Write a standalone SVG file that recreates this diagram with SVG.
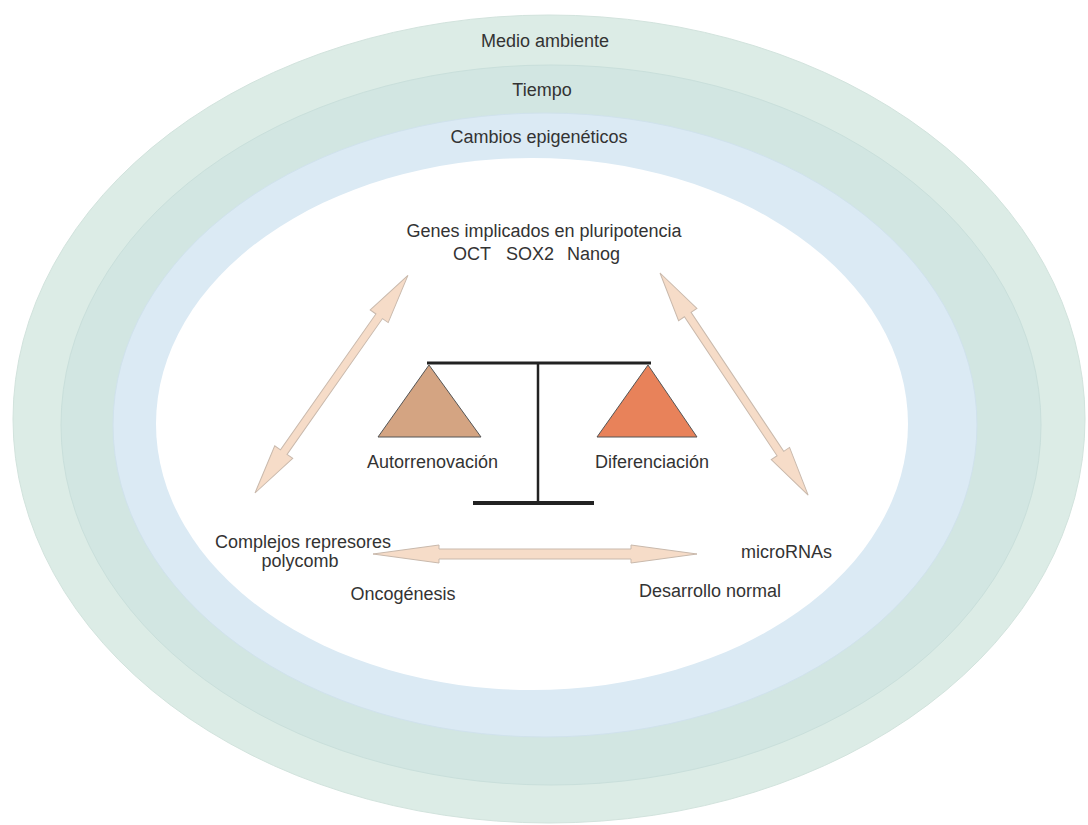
<svg xmlns="http://www.w3.org/2000/svg" width="1088" height="825" viewBox="0 0 1088 825">
<style>
text{font-family:"Liberation Sans",Arial,sans-serif;font-size:18px;fill:#333}
.mid{text-anchor:middle}
.arr{fill:#f6dcc8;stroke:#c9b9ac;stroke-width:1}
.bal{stroke:#222;fill:none}
</style>
<rect width="1088" height="825" fill="#ffffff"/>
<g id="ring-medio">
<ellipse cx="549" cy="419" rx="536" ry="404" fill="#dcece6" stroke="#d2e3dd" stroke-width="1"/>
<text class="mid" x="545" y="47">Medio ambiente</text>
</g>
<g id="ring-tiempo">
<ellipse cx="551" cy="425" rx="490" ry="360" fill="#d2e6e2" stroke="#c9dfdb" stroke-width="1"/>
<text class="mid" x="542" y="96">Tiempo</text>
</g>
<g id="ring-epigeneticos">
<ellipse cx="545" cy="425" rx="432" ry="312" fill="#dbeaf4" stroke="#d0e2ec" stroke-width="1"/>
<text class="mid" x="539" y="143">Cambios epigenéticos</text>
</g>
<ellipse cx="532" cy="424" rx="376" ry="266" fill="#ffffff"/>
<g id="genes">
<text class="mid" x="544" y="237">Genes implicados en pluripotencia</text>
<text y="260"><tspan x="453">OCT</tspan><tspan x="506">SOX2</tspan><tspan x="567">Nanog</tspan></text>
</g>
<g id="balanza">
<line class="bal" x1="427" y1="363" x2="651" y2="363" stroke-width="3"/>
<line class="bal" x1="538" y1="363" x2="538" y2="503" stroke-width="2.5"/>
<line class="bal" x1="473" y1="503" x2="594" y2="503" stroke-width="4"/>
</g>
<g id="autorrenovacion">
<polygon points="429,365 378,437 481,437" fill="#d4a482" stroke="#555" stroke-width="1"/>
<text x="367" y="468">Autorrenovación</text>
</g>
<g id="diferenciacion">
<polygon points="648,365 597,437 697,437" fill="#e8825a" stroke="#555" stroke-width="1"/>
<text x="595" y="468">Diferenciación</text>
</g>
<g id="polycomb">
<text class="mid" x="303" y="548">Complejos represores</text>
<text class="mid" x="300" y="567">polycomb</text>
</g>
<g id="microRNAs">
<text x="741" y="558">microRNAs</text>
</g>
<g id="oncogenesis">
<text class="mid" x="403" y="600">Oncogénesis</text>
</g>
<g id="desarrollo">
<text class="mid" x="710" y="597">Desarrollo normal</text>
</g>
<g id="connectors">
<path class="arr" transform="translate(255,493) rotate(-54.9)" d="M0,0 L50,-11 L50,-4 L216,-4 L216,-11 L266,0 L216,11 L216,4 L50,4 L50,11 Z"/>
<path class="arr" transform="translate(660,273) rotate(56.3)" d="M0,0 L50,-11 L50,-4 L217,-4 L217,-11 L267,0 L217,11 L217,4 L50,4 L50,11 Z"/>
<path class="arr" transform="translate(373,554)" d="M0,0 L66,-9 L66,-5 L258,-5 L258,-9 L324,0 L258,9 L258,5 L66,5 L66,9 Z"/>
</g>
</svg>
